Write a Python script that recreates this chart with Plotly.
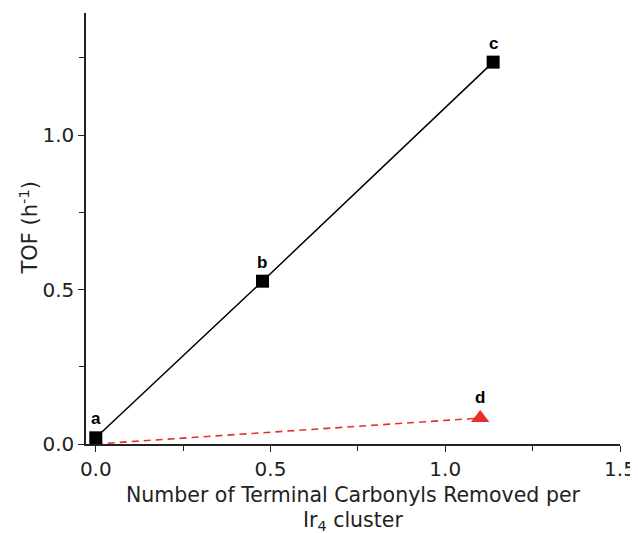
import plotly.graph_objects as go

# Data
black_x = [0.0, 0.477, 1.137]
black_y = [0.02, 0.527, 1.236]
black_labels = ["a", "b", "c"]

red_x = [0.0, 1.10]
red_y = [0.0, 0.084]
red_labels = ["", "d"]

x_ticks = [0, 0.5, 1.0, 1.5]
y_ticks = [0, 0.5, 1.0]
minor_ticks = [0.25, 0.75, 1.25]

FONT = "DejaVu Sans, Liberation Sans, Arial, sans-serif"
LABEL_FONT = "Liberation Sans, Arial, sans-serif"

fig = go.Figure()

fig.add_trace(go.Scatter(
    x=red_x, y=red_y, mode="lines+markers",
    line=dict(color="#e8302a", width=1.6, dash="7px,5px"),
    marker=dict(symbol="triangle-up", size=[0, 16], color="#e8302a",
                opacity=1, line=dict(width=0)),
    showlegend=False, cliponaxis=False,
))
fig.add_trace(go.Scatter(
    x=black_x, y=black_y, mode="lines+markers",
    line=dict(color="black", width=1.5),
    marker=dict(symbol="square", size=13, color="black", line=dict(width=0)),
    showlegend=False, cliponaxis=False,
))

for xv, yv, t in zip(black_x, black_y, black_labels):
    fig.add_annotation(x=xv, y=yv, text="<b>%s</b>" % t, showarrow=False,
                       yshift=19, font=dict(size=17, color="black", family=LABEL_FONT))
for xv, yv, t in zip(red_x, red_y, red_labels):
    if t:
        fig.add_annotation(x=xv, y=yv, text="<b>%s</b>" % t, showarrow=False,
                           yshift=21, font=dict(size=17, color="black", family=LABEL_FONT))

# axis titles
fig.add_annotation(xref="paper", yref="paper", x=0.5, y=0, yanchor="middle",
                   yshift=-51, showarrow=False,
                   text="Number of Terminal Carbonyls Removed per",
                   font=dict(size=20.5, family=FONT, color="#222"))
fig.add_annotation(xref="paper", yref="paper", x=0.5, y=0, yanchor="middle",
                   yshift=-77, showarrow=False,
                   text="Ir<sub>4</sub> cluster",
                   font=dict(size=20.5, family=FONT, color="#222"))
fig.add_annotation(xref="paper", yref="paper", x=0, y=0.5, xanchor="center",
                   xshift=-58, showarrow=False, textangle=-90,
                   text="TOF (h<sup>-1</sup>)",
                   font=dict(size=21, family=FONT, color="#222"))

fig.update_layout(
    width=630, height=525,
    margin=dict(l=78, r=18, t=5, b=89),
    paper_bgcolor="white", plot_bgcolor="white",
    font=dict(family=FONT, size=20, color="#222"),
    xaxis=dict(
        range=[-0.028, 1.5], showgrid=False, zeroline=False, automargin=False,
        showline=True, linecolor="#222", linewidth=1.5,
        ticks="outside", ticklen=6, tickwidth=1.3, tickcolor="#222",
        tickvals=x_ticks, ticktext=["%.1f" % v for v in x_ticks],
        minor=dict(tickvals=minor_ticks, ticks="outside", ticklen=5, tickcolor="#222"),
        tickfont=dict(size=20), ticklabeloverflow="allow",
    ),
    yaxis=dict(
        range=[0, 1.395], showgrid=False, zeroline=False, automargin=False,
        showline=True, linecolor="#222", linewidth=1.5,
        ticks="outside", ticklen=6, tickwidth=1.3, tickcolor="#222",
        tickvals=y_ticks, ticktext=["%.1f" % v for v in y_ticks],
        minor=dict(tickvals=minor_ticks, ticks="outside", ticklen=5, tickcolor="#222"),
        tickfont=dict(size=20),
    ),
)

fig.write_html("out.html")
